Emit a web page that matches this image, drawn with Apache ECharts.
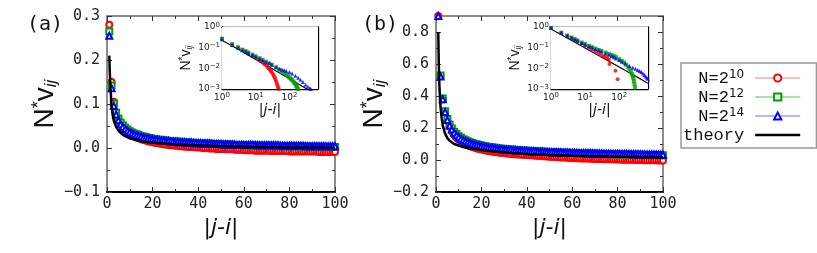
<!DOCTYPE html>
<html><head><meta charset="utf-8">
<script src="https://cdn.jsdelivr.net/npm/echarts@6/dist/echarts.min.js"></script>
<style>html,body{margin:0;padding:0;background:#fff}#c{width:817px;height:253px}</style>
</head><body><div id="c"></div><script>
// ---------- data ----------
const seriesNames = ['N=2^10', 'N=2^12', 'N=2^14'];
const theoryName = 'theory';
const xTicksMain = [0, 20, 40, 60, 80, 100];

// panel (a) main, |j-i| = 1..100
const redA = [
.280,.150,.105,.081,.066,.056,.048,.042,.037,.033,
.030,.027,.024,.022,.020,.018,.017,.015,.014,.013,
.012,.011,.010,.009,.008,.008,.007,.006,.006,.005,
.005,.004,.004,.003,.003,.002,.002,.002,.001,.001,
.001,.000,.000,.000,-.001,-.001,-.001,-.002,-.002,-.002,
-.002,-.003,-.003,-.003,-.003,-.004,-.004,-.004,-.004,-.005,
-.005,-.005,-.005,-.005,-.006,-.006,-.006,-.006,-.006,-.006,
-.006,-.007,-.007,-.007,-.007,-.007,-.007,-.007,-.007,-.008,
-.008,-.008,-.008,-.008,-.008,-.008,-.008,-.008,-.008,-.008,
-.008,-.008,-.009,-.009,-.009,-.009,-.009,-.009,-.009,-.009];
const greenA = [
.265,.142,.101,.080,.067,.058,.051,.046,.042,.038,
.035,.033,.031,.029,.027,.026,.025,.023,.022,.021,
.020,.019,.019,.018,.017,.017,.016,.016,.015,.015,
.014,.014,.013,.013,.013,.012,.012,.012,.011,.011,
.011,.010,.010,.010,.010,.009,.009,.009,.009,.008,
.008,.008,.008,.008,.007,.007,.007,.007,.007,.006,
.006,.006,.006,.006,.006,.005,.005,.005,.005,.005,
.005,.005,.005,.005,.005,.004,.004,.004,.004,.004,
.004,.004,.004,.004,.004,.003,.003,.003,.003,.003,
.003,.003,.003,.003,.003,.002,.002,.002,.002,.002];
const blueA = [
.255,.136,.096,.076,.063,.054,.048,.043,.039,.036,
.033,.031,.029,.027,.026,.024,.023,.022,.021,.020,
.019,.019,.018,.017,.017,.016,.016,.015,.015,.014,
.014,.013,.013,.013,.012,.012,.012,.011,.011,.011,
.011,.010,.010,.010,.010,.009,.009,.009,.009,.009,
.008,.008,.008,.008,.008,.008,.007,.007,.007,.007,
.007,.007,.007,.007,.007,.006,.006,.006,.006,.006,
.006,.006,.006,.006,.006,.005,.005,.005,.005,.005,
.005,.005,.005,.005,.005,.005,.004,.004,.004,.004,
.004,.004,.004,.004,.004,.004,.004,.004,.004,.004];
const theoryAx = [1,1.2,1.5,2,2.5,3,4,5,6,7,8,10,12,15,20,25,30,40,50,60,70,80,90,100];
const theoryAy = [.210,.175,.140,.095,.075,.062,.048,.040,.034,.030,.027,.022,.019,.015,.012,.010,.008,.006,.004,.003,.002,.0015,.001,.0005];

// panel (b) main, |j-i| = 1..100
const redB = [
.900,.525,.378,.298,.246,.208,.180,.158,.141,.127,
.116,.107,.099,.092,.086,.081,.076,.072,.068,.065,
.062,.059,.056,.054,.052,.050,.048,.046,.044,.043,
.041,.040,.038,.037,.036,.035,.034,.033,.032,.031,
.030,.029,.028,.027,.026,.025,.024,.023,.022,.021,
.020,.019,.018,.017,.016,.016,.015,.014,.013,.012,
.012,.011,.011,.010,.010,.009,.009,.008,.008,.007,
.007,.006,.006,.005,.005,.004,.004,.004,.003,.003,
.003,.002,.002,.002,.001,.001,.001,.000,.000,.000,
.000,-.001,-.001,-.001,-.002,-.002,-.002,-.003,-.003,-.003];
const greenB = [
.905,.528,.385,.305,.256,.222,.197,.177,.162,.149,
.139,.130,.123,.117,.111,.106,.102,.098,.094,.091,
.088,.085,.082,.080,.078,.076,.074,.072,.070,.069,
.067,.066,.065,.064,.063,.062,.061,.060,.059,.058,
.057,.056,.055,.054,.053,.053,.052,.051,.050,.050,
.049,.048,.048,.047,.046,.046,.045,.045,.044,.044,
.043,.043,.042,.042,.041,.041,.040,.040,.040,.039,
.039,.038,.038,.038,.037,.037,.037,.036,.036,.036,
.035,.035,.035,.034,.034,.034,.033,.033,.033,.033,
.032,.032,.032,.031,.031,.031,.031,.030,.030,.030];
const blueB = [
.900,.522,.380,.300,.250,.215,.190,.170,.155,.142,
.132,.124,.117,.111,.106,.101,.097,.093,.090,.087,
.084,.081,.079,.077,.075,.073,.071,.069,.068,.066,
.065,.064,.063,.062,.061,.060,.059,.058,.057,.056,
.055,.054,.054,.053,.052,.052,.051,.050,.050,.049,
.049,.048,.048,.047,.047,.046,.046,.045,.045,.044,
.044,.044,.043,.043,.043,.042,.042,.042,.041,.041,
.041,.040,.040,.040,.039,.039,.039,.038,.038,.038,
.038,.037,.037,.037,.037,.036,.036,.036,.036,.035,
.035,.035,.035,.034,.034,.034,.034,.034,.033,.033];
const theoryBx = [1,1.2,1.5,2,2.5,3,4,5,6,8,10,12,15,20,25,30,40,50,60,70,80,90,100];
const theoryBy = [.80,.62,.46,.33,.26,.215,.165,.138,.120,.100,.090,.081,.072,.062,.054,.047,.038,.032,.027,.024,.021,.019,.017];

// insets (log-log)
const insRedAx = [1,2,3,4,5,6,8,10,12,14,16,18,20,22,24,26,28,30,32,34,36,38,40,42,44,46,48];
const insRedAy = [.28,.15,.105,.08,.066,.056,.042,.033,.027,.022,.019,.016,.014,.012,.010,.0088,.0075,.0064,.0054,.0045,.0037,.003,.0024,.0019,.0015,.0012,.001];
const insGreenAx = [1,2,3,4,5,6,8,10,13,16,20,25,30,40,50,60,70,80,90,100,110,120,130,140,150,160,170,180];
const insGreenAy = [.265,.142,.101,.08,.067,.058,.046,.038,.031,.026,.021,.017,.015,.011,.0085,.0068,.0057,.0048,.0042,.0036,.0031,.0027,.0023,.002,.0017,.0014,.0012,.001];
const insBlueAx = [1,2,3,4,5,6,8,10,13,16,20,25,30,40,50,60,70,80,100,120,150,180,210,250,300,350,400,430];
const insBlueAy = [.255,.136,.096,.076,.063,.054,.043,.036,.029,.025,.021,.018,.015,.012,.0098,.0088,.008,.0074,.0066,.0056,.0044,.0035,.0028,.0022,.0016,.0013,.0011,.001];
const insTheoryAx = [1,3,10,30,100,300,700];
const insTheoryAy = [.23,.083,.027,.0098,.0031,.0011,.00048];

const insRedBx = [1,2,3,4,5,6,8,10,13,16,20,25,30,35,40,45,50,52,78,90];
const insRedBy = [.90,.525,.378,.298,.246,.208,.158,.127,.099,.081,.065,.052,.043,.038,.034,.030,.026,.016,.0077,.003];
const insGreenBx = [1,2,3,4,5,6,8,10,13,16,20,25,30,40,50,60,70,80,100,120,140,160,180,200,220,240,250,260,270,280,290];
const insGreenBy = [.905,.528,.385,.305,.256,.222,.177,.149,.123,.106,.091,.078,.069,.058,.050,.044,.039,.035,.028,.023,.019,.015,.012,.0095,.0072,.0052,.0042,.0033,.0024,.0017,.0012];
const insBlueBx = [1,2,3,4,5,6,8,10,13,16,20,25,30,40,50,60,70,80,100,120,150,200,250,300,350,400,450,500,550,600,650,700];
const insBlueBy = [.90,.52,.38,.30,.25,.215,.17,.142,.117,.101,.087,.075,.066,.052,.045,.039,.034,.030,.025,.021,.017,.013,.011,.0095,.0083,.0074,.0066,.0057,.0048,.004,.0035,.0031];
const insTheoryBx = [1,10,100,700];
const insTheoryBy = [.80,.096,.0115,.0019];

// ---------- helpers ----------
const idx = redA.map((_, i) => i + 1);
const zip = (xs, ys) => xs.map((x, i) => [x, ys[i]]);
const colors = ['#ff0000', '#00a000', '#0000ff'];
const legendLine = ['#ff7a7a', '#5cbf5c', '#6b6bff'];
const emptySyms = ['emptyCircle', 'emptyRect', 'emptyTriangle'];
const fullSyms = ['circle', 'rect', 'triangle'];
const gray = '#8c8c8c', tickC = '#333';
const monoLbl = {fontFamily: 'DejaVu Sans Mono', fontSize: 15, color: '#222'};

const yName = {
  n: {fontFamily: 'Liberation Sans', fontSize: 28, color: '#111', lineHeight: 30},
  s: {fontFamily: 'Liberation Sans', fontSize: 18, color: '#111', lineHeight: 14, verticalAlign: 'top'},
  i: {fontFamily: 'Liberation Sans', fontStyle: 'italic', fontSize: 17, color: '#111', lineHeight: 10, verticalAlign: 'bottom'}
};
const yNameSmall = {
  n: {fontFamily: 'Liberation Sans', fontSize: 14, color: '#111', lineHeight: 16},
  s: {fontFamily: 'Liberation Sans', fontSize: 10, color: '#111', lineHeight: 7, verticalAlign: 'top'},
  i: {fontFamily: 'Liberation Sans', fontStyle: 'italic', fontSize: 9, color: '#111', lineHeight: 5, verticalAlign: 'bottom'}
};
const logRich = {
  b: {fontFamily: 'DejaVu Sans', fontSize: 9, color: '#222', lineHeight: 11},
  s: {fontFamily: 'DejaVu Sans', fontSize: 7, color: '#222', lineHeight: 6, verticalAlign: 'top'}
};
function logFmt(v) {
  const e = Math.round(Math.log10(v));
  if (Math.abs(Math.log10(v) - e) > 1e-6) return '';
  return '{b|10}{s|' + (e < 0 ? '\u2212' + (-e) : e) + '}';
}
function linFmt(step) {
  return function (v) {
    if (Math.abs(Math.round(v / step) * step - v) > 1e-9) return '';
    if (Math.abs(v) < 1e-9) return '0.0';
    return (v < 0 ? '\u2212' : '') + Math.abs(v).toFixed(1);
  };
}

function mainAxes(g, ymin, ymax, yint) {
  const xb = {gridIndex: g, type: 'value', min: 0, max: 100, interval: 20, position: 'bottom',
    axisLine: {onZero: false, lineStyle: {color: '#000', width: 2}},
    axisTick: {inside: true, length: 5, lineStyle: {color: tickC}},
    minorTick: {show: true, splitNumber: 2, length: 3, lineStyle: {color: tickC}},
    splitLine: {show: false},
    axisLabel: Object.assign({margin: 5}, monoLbl),
    name: '|j-i|', nameLocation: 'middle', nameGap: 19,
    nameTextStyle: {fontFamily: 'DejaVu Sans', fontStyle: 'italic', fontSize: 22, color: '#111'}};
  const xt = {gridIndex: g, type: 'value', min: 0, max: 100, interval: 20, position: 'top',
    axisLine: {onZero: false, lineStyle: {color: gray, width: 2}},
    axisTick: {inside: true, length: 5, lineStyle: {color: tickC}},
    minorTick: {show: true, splitNumber: 2, length: 3, lineStyle: {color: tickC}},
    splitLine: {show: false}, axisLabel: {show: false}};
  const yl = {gridIndex: g, type: 'value', min: ymin, max: ymax, interval: yint, position: 'left',
    axisLine: {onZero: false, lineStyle: {color: gray, width: 2}},
    axisTick: {inside: true, length: 5, lineStyle: {color: tickC}},
    minorTick: {show: true, splitNumber: 2, length: 3, lineStyle: {color: tickC}},
    splitLine: {show: false},
    axisLabel: Object.assign({margin: 7, formatter: linFmt(yint)}, monoLbl),
    name: '{n|N}{s|*}{n|v}{i|ij}', nameLocation: 'middle', nameRotate: 90, nameGap: 37,
    nameTextStyle: {rich: yName}};
  const yr = {gridIndex: g, type: 'value', min: ymin, max: ymax, interval: yint, position: 'right',
    axisLine: {onZero: false, lineStyle: {color: gray, width: 2}},
    axisTick: {inside: true, length: 5, lineStyle: {color: tickC}},
    minorTick: {show: true, splitNumber: 2, length: 3, lineStyle: {color: tickC}},
    splitLine: {show: false}, axisLabel: {show: false}};
  return {x: [xb, xt], y: [yl, yr]};
}
function insetAxes(g) {
  const common = {gridIndex: g, type: 'log', logBase: 10, splitNumber: 3,
    axisLine: {onZero: false, lineStyle: {color: '#000', width: 1.3}},
    axisTick: {inside: true, length: 3, lineStyle: {color: '#000'}},
    splitLine: {show: false}, minorTick: {show: false}};
  const xb = Object.assign({}, common, {min: 1, max: 700, position: 'bottom',
    axisLabel: {margin: 3, formatter: logFmt, rich: logRich},
    name: '|j-i|', nameLocation: 'middle', nameGap: 10,
    nameTextStyle: {fontFamily: 'DejaVu Sans', fontStyle: 'italic', fontSize: 14, color: '#111'}});
  const xt = Object.assign({}, common, {min: 1, max: 700, position: 'top', axisLabel: {show: false}});
  const yl = Object.assign({}, common, {min: 0.001, max: 1, position: 'left',
    axisLabel: {margin: 2, formatter: logFmt, rich: logRich},
    name: '{n|N}{s|*}{n|v}{i|ij}', nameLocation: 'middle', nameRotate: 90, nameGap: 21,
    nameTextStyle: {rich: yNameSmall}});
  const yr = Object.assign({}, common, {min: 0.001, max: 1, position: 'right', axisLabel: {show: false}});
  return {x: [xb, xt], y: [yl, yr]};
}

const A = mainAxes(0, -0.1, 0.3, 0.1);
const Ai = insetAxes(1);
const B = mainAxes(2, -0.2, 0.9, 0.2);
const Bi = insetAxes(3);

function mainSeries(ax, ay, vals) {
  return vals.map((v, k) => ({
    name: seriesNames[k], type: 'line', xAxisIndex: ax, yAxisIndex: ay,
    data: zip(idx, v), symbol: emptySyms[k], symbolSize: 6, showAllSymbol: true,
    itemStyle: {color: colors[k], borderWidth: 1},
    lineStyle: {opacity: 0, color: legendLine[k]}, emphasis: {disabled: true}, z: 3 + k
  }));
}
function insetSeries(ax, ay, xs, ys) {
  return xs.map((x, k) => ({
    name: seriesNames[k], type: 'scatter', xAxisIndex: ax, yAxisIndex: ay,
    data: zip(x, ys[k]), symbol: fullSyms[k], symbolSize: 4,
    itemStyle: {color: colors[k]}, emphasis: {disabled: true}, z: 10 + k
  }));
}
function theorySeries(ax, ay, xs, ys, w, z) {
  return {name: theoryName, type: 'line', xAxisIndex: ax, yAxisIndex: ay, data: zip(xs, ys),
    showSymbol: false, symbol: 'none', lineStyle: {color: '#000', width: w}, itemStyle: {color: '#000'},
    emphasis: {disabled: true}, z: z};
}

const option = {
  animation: false,
  backgroundColor: '#fff',
  grid: [
    {left: 107, top: 16, width: 228, height: 176},
    {left: 222, top: 27, width: 96, height: 62, show: true, backgroundColor: '#fff', borderWidth: 0, z: 1},
    {left: 436, top: 16, width: 227, height: 176},
    {left: 551, top: 27, width: 97, height: 62, show: true, backgroundColor: '#fff', borderWidth: 0, z: 1}
  ],
  xAxis: [].concat(A.x, Ai.x, B.x, Bi.x),
  yAxis: [].concat(A.y, Ai.y, B.y, Bi.y),
  legend: {
    left: 681, top: 63, orient: 'vertical', align: 'right', selectedMode: false,
    padding: [6, 15, 4, 2], itemWidth: 45, itemHeight: 9, itemGap: 1,
    borderColor: '#999', borderWidth: 1.5, backgroundColor: '#fff',
    data: seriesNames.map((n, k) => ({name: n, lineStyle: {opacity: 1, width: 1, color: legendLine[k]}}))
      .concat([{name: theoryName, itemStyle: {opacity: 0}, lineStyle: {width: 2.5, color: '#000', opacity: 1}}]),
    formatter: function (name) {
      if (name === theoryName) return name;
      return 'N=2{s|' + name.split('^')[1] + '}';
    },
    textStyle: {fontFamily: 'Liberation Mono', fontSize: 17, color: '#111', lineHeight: 18, padding: [0, 6, 0, 0],
      rich: {s: {fontFamily: 'DejaVu Sans', fontSize: 12, color: '#111', lineHeight: 8, verticalAlign: 'top'}}}
  },
  graphic: [
    {type: 'text', left: 27, top: 15, style: {text: '(a)', font: '20px "DejaVu Sans Mono"', fill: '#111'}},
    {type: 'text', left: 362, top: 15, style: {text: '(b)', font: '20px "DejaVu Sans Mono"', fill: '#111'}}
  ],
  series: [].concat(
    mainSeries(0, 0, [redA, greenA, blueA]),
    [theorySeries(0, 0, theoryAx, theoryAy, 2.5, 8)],
    insetSeries(2, 2, [insRedAx, insGreenAx, insBlueAx], [insRedAy, insGreenAy, insBlueAy]),
    [theorySeries(2, 2, insTheoryAx, insTheoryAy, 1.2, 9)],
    mainSeries(4, 4, [redB, greenB, blueB]),
    [theorySeries(4, 4, theoryBx, theoryBy, 2.5, 8)],
    insetSeries(6, 6, [insRedBx, insGreenBx, insBlueBx], [insRedBy, insGreenBy, insBlueBy]),
    [theorySeries(6, 6, insTheoryBx, insTheoryBy, 1.2, 9)]
  )
};
const chart = echarts.init(document.getElementById('c'), null, {renderer: 'canvas'});
chart.setOption(option);
</script></body></html>
